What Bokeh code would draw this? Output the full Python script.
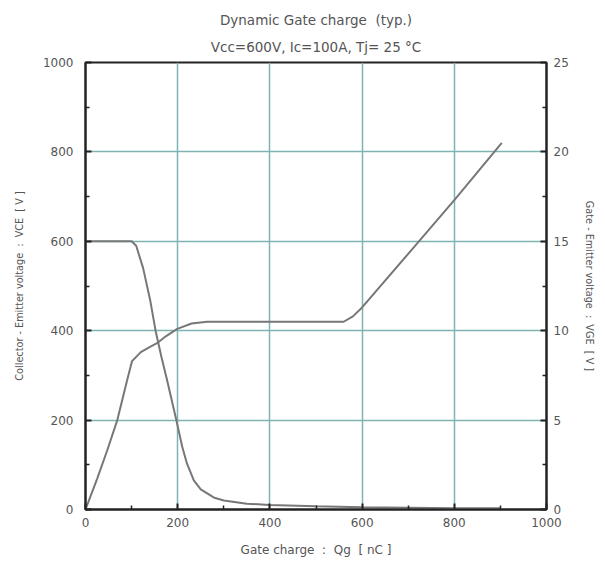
from bokeh.plotting import figure
from bokeh.models import Range1d, LinearAxis, Title, FixedTicker
from bokeh.embed import file_html
from bokeh.resources import INLINE

# Data
qg_vce = [0, 100, 110, 125, 140, 152, 165, 177, 197, 210, 220, 235, 250, 278, 300, 350, 400, 500, 600, 700, 800, 900]
vce = [600, 600, 590, 540, 470, 400, 340, 289, 200, 140, 103, 65, 45, 27, 20, 13, 10, 7, 5, 4, 3, 3]

qg_vge = [0, 25, 47, 69, 90, 101, 120, 140, 155, 175, 199, 230, 264, 300, 400, 500, 560, 580, 600, 700, 800, 903]
vge = [0, 1.7, 3.3, 5.0, 7.2, 8.3, 8.8, 9.1, 9.3, 9.7, 10.1, 10.4, 10.5, 10.5, 10.5, 10.5, 10.5, 10.8, 11.3, 14.3, 17.3, 20.5]

x_ticks = [0, 200, 400, 600, 800, 1000]
y_ticks = [0, 200, 400, 600, 800, 1000]
y2_ticks = [0, 5, 10, 15, 20, 25]

NB = "\u00a0"
title_main = "Dynamic Gate charge" + NB * 2 + "(typ.)"
title_sub = "Vcc=600V, Ic=100A, Tj= 25 \u00b0C"
x_label = "Gate charge" + NB * 2 + ":" + NB * 2 + "Qg" + NB * 2 + "[ nC ]"
y_label = "Collector - Emitter voltage" + NB * 2 + ":" + NB * 2 + "VCE" + NB * 2 + "[ V ]"
y2_label = "Gate - Emitter voltage" + NB * 2 + ":" + NB * 2 + "VGE" + NB * 2 + "[ V ]"

FONT = "DejaVu Sans"
TXT = "#555555"
GRID = "#7fb2b2"
CURVE = "#777777"

p = figure(frame_width=461, frame_height=447, min_border_left=85, min_border_right=59,
           min_border_top=62, min_border_bottom=52,
           x_range=Range1d(0, 1000), y_range=Range1d(0, 1000),
           output_backend="svg", toolbar_location=None)
p.extra_y_ranges = {"vge": Range1d(0, 25)}

p.outline_line_color = "#222222"
p.outline_line_width = 2
p.background_fill_color = "white"
p.border_fill_color = "white"

p.title.text = title_main
p.title.align = "center"
p.title.text_font = FONT
p.title.text_font_size = "13.5px"
p.title.text_font_style = "normal"
p.title.text_color = TXT
p.title.standoff = 4

p.add_layout(Title(text=title_sub, align="center", text_font=FONT, text_font_size="13.5px",
                   text_font_style="normal", text_color=TXT, standoff=15), "above")

def style_axis(ax, ticks, minor, label_size):
    ax.ticker = FixedTicker(ticks=ticks, minor_ticks=minor)
    ax.axis_line_color = "#222222"
    ax.axis_line_width = 2
    ax.major_tick_in = 6
    ax.major_tick_out = 0
    ax.minor_tick_in = 4
    ax.minor_tick_out = 0
    ax.major_tick_line_color = "#222222"
    ax.major_tick_line_width = 2
    ax.minor_tick_line_color = "#222222"
    ax.minor_tick_line_width = 1.5
    ax.major_label_text_font = FONT
    ax.major_label_text_font_size = "12px"
    ax.major_label_text_color = TXT
    ax.axis_label_text_font = FONT
    ax.axis_label_text_font_size = label_size
    ax.axis_label_text_color = TXT
    ax.axis_label_text_font_style = "normal"

xa = p.xaxis[0]
style_axis(xa, x_ticks, [100, 300, 500, 700, 900], "12px")
xa.axis_label = x_label
xa.major_label_standoff = 8
xa.axis_label_standoff = 13

ya = p.yaxis[0]
style_axis(ya, y_ticks, [100, 300, 500, 700, 900], "9.7px")
ya.axis_label = y_label
ya.major_label_standoff = 12
ya.axis_label_standoff = 15

ra = LinearAxis(y_range_name="vge")
style_axis(ra, y2_ticks, [2.5, 7.5, 12.5, 17.5, 22.5], "9.7px")
ra.axis_label = y2_label
ra.major_label_standoff = 7
ra.axis_label_standoff = 12
p.add_layout(ra, "right")

p.xgrid.ticker = FixedTicker(ticks=x_ticks)
p.ygrid.ticker = FixedTicker(ticks=y_ticks)
for g in (p.xgrid[0], p.ygrid[0]):
    g.grid_line_color = GRID
    g.grid_line_width = 1.5

p.line(qg_vce, vce, line_color=CURVE, line_width=2)
p.line(qg_vge, vge, line_color=CURVE, line_width=2, y_range_name="vge")

open("out.html", "w").write(file_html(p, INLINE))
